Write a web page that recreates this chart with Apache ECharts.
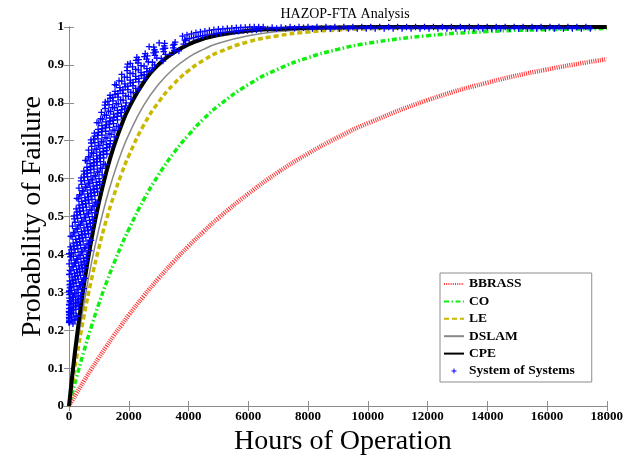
<!DOCTYPE html>
<html>
<head>
<meta charset="utf-8">
<script src="https://cdn.jsdelivr.net/npm/echarts@6/dist/echarts.min.js"></script>
<style>html,body{margin:0;padding:0;background:#fff}#c{width:626px;height:461px}</style>
</head>
<body>
<div id="c"></div>
<script>
// Hours at which the five component curves are read
const hours = [0,100,250,500,750,1000,1250,1500,1750,2000,2500,3000,3500,4000,4500,5000,6000,7000,8000,9000,10000,12000,14000,16000,18000];
const bbrass = [0,0.0136,0.0337,0.0662,0.0976,0.128,0.157,0.186,0.213,0.240,0.290,0.337,0.381,0.422,0.460,0.496,0.560,0.617,0.666,0.709,0.746,0.807,0.853,0.888,0.915];
const co     = [0,0.031,0.0755,0.145,0.210,0.270,0.325,0.376,0.423,0.466,0.544,0.610,0.667,0.715,0.757,0.792,0.848,0.889,0.919,0.941,0.957,0.977,0.988,0.993,0.996];
const le     = [0,0.053,0.126,0.237,0.333,0.417,0.491,0.555,0.611,0.660,0.741,0.802,0.849,0.885,0.912,0.933,0.961,0.977,0.987,0.992,0.9955,0.998,0.999,1,1];
const dslam  = [0,0.061,0.146,0.270,0.377,0.467,0.545,0.611,0.668,0.716,0.793,0.849,0.890,0.920,0.941,0.957,0.977,0.988,0.9935,0.9965,0.998,0.9995,1,1,1];
const cpe    = [0,0.074,0.175,0.320,0.439,0.537,0.618,0.685,0.740,0.786,0.854,0.901,0.932,0.954,0.969,0.979,0.990,0.995,0.998,0.999,1,1,1,1,1];

// System of Systems scatter samples (hours)
const sosHours = [
5,12,133, 8,2,202, 15,68,271, 4,137,20, 67,221,10, 144,298,6, 221,375,74, 305,14,151, 421,9,234, 493,60,307,
18,141,388, 26,213,460, 99,286,532, 180,359,11, 253,441,66, 327,514,140, 401,587,222, 483,49,295, 595,85,375, 683,173,463,
51,271,561, 139,359,649, 227,447,737, 325,535,105, 413,633,193, 501,721,281, 589,809,379, 687,177,467, 775,265,555, 868,358,648,
241,461,751, 334,554,844, 427,647,937, 530,740,310, 623,843,403, 716,936,496, 809,1029,599, 912,402,692, 1005,495,785, 1110,600,890,
495,715,1005, 600,820,1110, 705,925,1215, 820,1030,600, 926,1146,706, 1032,1252,812, 1138,1358,928, 1254,744,1034, 1386,825,1144, 1513,952,1271,
848,1090,1409, 975,1217,1536, 1102,1344,1663, 1240,1471,998, 1367,1609,1125, 1494,1736,1252, 1621,1863,1390, 1759,1198,1517, 1912,1300,1648, 2076,1464,1812,
1376,1640,1988, 1540,1804,2152, 1704,1968,2316, 1870,2143,1584, 2051,2337,1765, 2232,2518,1946, 2413,2699,2140, 2607,1944,2321, 2866,2050,2514, 3145,2329,2793,
2271,2623,3087, 2550,2902,3366, 2862,3214,3678, 3190,3526,2838, 3552,3904,3200,
14,168,7, 82,236,16, 155,3,5, 231,22,78, 308,9,154, 27,32,235, 12,113,315, 36,190,392, 88,271,4, 165,347,30,
237,424,50, 310,497,127, 386,19,204, 463,30,276, 537,103,350, 6,181,427, 72,259,505, 145,332,579, 204,419,8, 297,512,77,
385,605,165, 473,693,258, 566,61,351, 659,149,439, 747,237,527, 115,330,620, 203,423,713, 291,511,801, 387,602,172, 485,700,265,
578,798,358, 671,891,456, 769,264,554, 867,357,647, 960,450,740, 333,548,838, 426,646,936, 519,739,1029, 623,838,408, 733,948,513,
838,1058,618, 943,1163,728, 1053,548,838, 1163,653,943, 1269,759,1049, 655,870,1160, 761,981,1271, 867,1087,1377, 971,1208,735, 1104,1340,862,
1231,1473,989, 1358,1600,1121, 1490,935,1254, 1623,1062,1381, 1750,1189,1508, 1085,1321,1640, 1212,1454,1773, 1339,1581,1900, 1472,1730,1214, 1642,1900,1378,
1806,2070,1542, 1970,2234,1712, 2140,1534,1882, 2338,1675,2052, 2519,1856,2233, 1764,2043,2420, 1945,2231,2608, 2126,2412,2789, 2310,2654,1966, 2596,2940,2244,
2875,3227,2523, 3170,3522,2826, 3490,2682,3146, 3835,3019,3483,
3800,3875,3950,4025,4100,4175,4250,4325,4400,4475,4550,4625,4700,4775,4850,4925,5000,5075,5150,5225,5300,5375,5450,5525,5600,5675,5750,5825,5900,5975,6050,6125,6200,6275,6350,6425,6500,
6650,6800,6950,7100,7250,7400,7550,7700,7850,8000,8150,8300,8450,8600,8750,8900,9050,9200,9350,9500,9650,9800,9950,10100,10250,10400,10550,10700,10850,11000,11150,11300,11450,11600,11750,11900,
12050,12200,12350,12500,12650,12800,12950,13100,13250,13400,13550,13700,13850,14000,14150,14300,14450,14600,14750,14900,15050,15200,15350,15500,15650,15800,15950,16100,16250,16400,16550,16700,16850,17000,17150,17300,17450,17600,17750,17900,18000
];
// System of Systems scatter samples (probability of failure)
const sosProb = [
.22,.224,.217, .23,.234,.227, .24,.244,.237, .25,.254,.247, .26,.264,.257, .27,.274,.267, .28,.284,.277, .29,.294,.287, .30,.304,.297, .31,.314,.307,
.32,.324,.317, .33,.334,.327, .34,.344,.337, .35,.354,.347, .36,.364,.357, .37,.374,.367, .38,.384,.377, .39,.394,.387, .40,.404,.397, .41,.414,.407,
.42,.424,.417, .43,.434,.427, .44,.444,.437, .45,.454,.447, .46,.464,.457, .47,.474,.467, .48,.484,.477, .49,.494,.487, .50,.504,.497, .51,.514,.507,
.52,.524,.517, .53,.534,.527, .54,.544,.537, .55,.554,.547, .56,.564,.557, .57,.574,.567, .58,.584,.577, .59,.594,.587, .60,.604,.597, .61,.614,.607,
.62,.624,.617, .63,.634,.627, .64,.644,.637, .65,.654,.647, .66,.664,.657, .67,.674,.667, .68,.684,.677, .69,.694,.687, .70,.704,.697, .71,.714,.707,
.72,.724,.717, .73,.734,.727, .74,.744,.737, .75,.754,.747, .76,.764,.757, .77,.774,.767, .78,.784,.777, .79,.794,.787, .80,.804,.797, .81,.814,.807,
.82,.824,.817, .83,.834,.827, .84,.844,.837, .85,.854,.847, .86,.864,.857, .87,.874,.867, .88,.884,.877, .89,.894,.887, .90,.904,.897, .91,.914,.907,
.92,.924,.917, .93,.934,.927, .94,.944,.937, .95,.954,.947, .96,.964,.957,
.225,.228,.222, .235,.238,.232, .245,.248,.242, .255,.258,.252, .265,.268,.262, .275,.278,.272, .285,.288,.282, .295,.298,.292, .305,.308,.302, .315,.318,.312,
.325,.328,.322, .335,.338,.332, .345,.348,.342, .355,.358,.352, .365,.368,.362, .375,.378,.372, .385,.388,.382, .395,.398,.392, .405,.408,.402, .415,.418,.412,
.425,.428,.422, .435,.438,.432, .445,.448,.442, .455,.458,.452, .465,.468,.462, .475,.478,.472, .485,.488,.482, .495,.498,.492, .505,.508,.502, .515,.518,.512,
.525,.528,.522, .535,.538,.532, .545,.548,.542, .555,.558,.552, .565,.568,.562, .575,.578,.572, .585,.588,.582, .595,.598,.592, .605,.608,.602, .615,.618,.612,
.625,.628,.622, .635,.638,.632, .645,.648,.642, .655,.658,.652, .665,.668,.662, .675,.678,.672, .685,.688,.682, .695,.698,.692, .705,.708,.702, .715,.718,.712,
.725,.728,.722, .735,.738,.732, .745,.748,.742, .755,.758,.752, .765,.768,.762, .775,.778,.772, .785,.788,.782, .795,.798,.792, .805,.808,.802, .815,.818,.812,
.825,.828,.822, .835,.838,.832, .845,.848,.842, .855,.858,.852, .865,.868,.862, .875,.878,.872, .885,.888,.882, .895,.898,.892, .905,.908,.902, .915,.918,.912,
.925,.928,.922, .935,.938,.932, .945,.948,.942, .955,.958,.952,
.976,.966,.979,.969,.982,.972,.985,.975,.987,.977,.989,.979,.991,.981,.993,.983,.994,.985,.995,.986,.996,.987,.997,.988,.998,.989,.999,.990,.999,.991,1,.992,1,.993,1,.994,1,
.995,.999,.996,.999,.997,1,.997,1,.998,1,.996,1,.996,1,.996,1,.996,1,.996,1,.996,1,.996,1,.996,1,.996,1,.996,1,.996,1,.996,1,.996,1,
.996,1,.996,1,.996,1,.996,1,.996,1,.996,1,.996,1,.996,1,.996,1,.996,1,.996,1,.996,1,.996,1,.996,1,.996,1,.996,1,.996,1,.996,1,.996
];

const xTicks = {min: 0, max: 18000, interval: 2000};
const yTicks = {min: 0, max: 1, interval: 0.1};

const SERIF = "'Liberation Serif','DejaVu Serif',serif";
const AXC = '#8c8c8c';
const plusPath = 'path://M4,0h2v4h4v2h-4v4h-2v-4h-4v-2h4z';
const plusLegend = 'path://M0,0h0.05v0.05h-0.05zM24,24h0.05v0.05h-0.05zM11,7h2v4h4v2h-4v4h-2v-4h-4v-2h4z';
const blankSymbol = 'path://M0,0h0.01v0.01h-0.01zM24,24h0.01v0.01h-0.01z';

function pairs(xs, ys){ return xs.map((x,i)=>[x, ys[i]]); }
function lineSeries(name, ys, color, width, type){
  return {name, type:'line', data: pairs(hours, ys), symbol:blankSymbol, showSymbol:false, smooth:0.5,
    lineStyle:{color, width, type}, itemStyle:{color, opacity:0}, z:2};
}

const chart = echarts.init(document.getElementById('c'), null, {renderer:'canvas'});
const baseX = {type:'value', ...xTicks, splitLine:{show:false},
  axisLine:{show:true, lineStyle:{color:AXC, width:1}},
  axisTick:{show:true, inside:true, length:5, lineStyle:{color:AXC}}};
const baseY = {type:'value', ...yTicks, splitLine:{show:false},
  axisLine:{show:true, lineStyle:{color:AXC, width:1}},
  axisTick:{show:true, inside:true, length:5, lineStyle:{color:AXC}}};

chart.setOption({
  animation:false,
  backgroundColor:'#fff',
  title:{text:'HAZOP-FTA Analysis', left:340, textAlign:'center', top:2,
    textStyle:{fontFamily:SERIF, fontSize:14, fontWeight:'normal', color:'#000'}},
  grid:{left:69, right:16, top:27, bottom:52},
  xAxis:[
    {...baseX, position:'bottom',
      axisLabel:{color:'#000', fontFamily:SERIF, fontWeight:'bold', fontSize:13, margin:4,
        formatter:(v)=>String(v)},
      name:'Hours of Operation', nameLocation:'middle', nameGap:16,
      nameTextStyle:{fontFamily:SERIF, fontSize:28, color:'#000', padding:[0,0,0,10]}},
    {...baseX, position:'top', axisLabel:{show:false}}
  ],
  yAxis:[
    {...baseY, position:'left',
      axisLabel:{color:'#000', fontFamily:SERIF, fontWeight:'bold', fontSize:13, margin:5},
      name:'Probability of Failure', nameLocation:'middle', nameGap:22, nameMoveOverlap:false,
      nameTextStyle:{fontFamily:SERIF, fontSize:28, color:'#000'}},
    {...baseY, position:'right', axisLabel:{show:false}}
  ],
  legend:{orient:'vertical', left:440, top:273, padding:[4,17,4,3],
    itemWidth:20, itemHeight:12, itemGap:3.4,
    borderColor:'#8c8c8c', borderWidth:1, backgroundColor:'#fff',
    textStyle:{fontFamily:SERIF, fontWeight:'bold', fontSize:13.5, color:'#000'},
    data:['BBRASS','CO','LE','DSLAM','CPE',{name:'System of Systems', icon:plusLegend}]},
  series:[
    lineSeries('BBRASS', bbrass, '#ff3333', 4.5, [1,1.2]),
    lineSeries('CO', co, '#11ee11', 3.5, [5,2.5,1.5,2.5]),
    lineSeries('LE', le, '#c9b800', 3.5, [5,3]),
    lineSeries('DSLAM', dslam, '#888888', 1.5, 'solid'),
    lineSeries('CPE', cpe, '#000000', 4, 'solid'),
    {name:'System of Systems', type:'scatter', data: pairs(sosHours, sosProb),
      symbol: plusPath, symbolSize:6.5, itemStyle:{color:'#0000ff', opacity:1}, z:3}
  ]
});
</script>
</body>
</html>
